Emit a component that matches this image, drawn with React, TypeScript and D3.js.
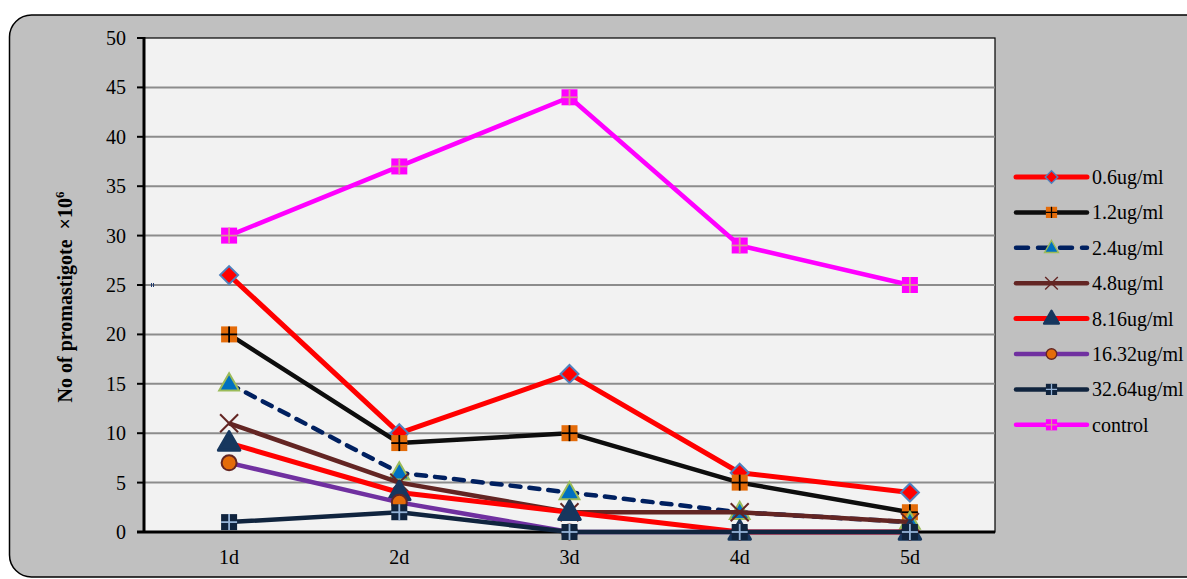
import React from 'react';
import { scalePoint, scaleLinear, line, symbol, symbolTriangle } from 'd3';

const days = ['1d', '2d', '3d', '4d', '5d'];
const yTicks = [0, 5, 10, 15, 20, 25, 30, 35, 40, 45, 50];

const s06 = [26, 10, 16, 6, 4];
const s12 = [20, 9, 10, 5, 2];
const s24 = [15, 6, 4, 2, 1];
const s48 = [11, 5, 2, 2, 1];
const s816 = [9, 4, 2, 0, 0];
const s1632 = [7, 3, 0, 0, 0];
const s3264 = [1, 2, 0, 0, 0];
const control = [30, 37, 44, 29, 25];

const seriesNames = ['0.6ug/ml', '1.2ug/ml', '2.4ug/ml', '4.8ug/ml', '8.16ug/ml', '16.32ug/ml', '32.64ug/ml', 'control'];

type Style = { color: string; dash?: string; marker: string; fill: string; edge: string; width: number };

const styles: Style[] = [
  { color: '#ff0000', marker: 'diamond', fill: '#ff0000', edge: '#4f81bd', width: 5 },
  { color: '#0d0d0d', marker: 'squarePlus', fill: '#e46c0a', edge: '#000000', width: 4.5 },
  { color: '#002060', dash: '10 9', marker: 'triangle', fill: '#0070c0', edge: '#9bbb59', width: 4.5 },
  { color: '#632523', marker: 'x', fill: 'none', edge: '#632523', width: 4.5 },
  { color: '#ff0000', marker: 'triangleBig', fill: '#17375e', edge: '#17375e', width: 5 },
  { color: '#7030a0', marker: 'circle', fill: '#e46c0a', edge: '#632523', width: 4.5 },
  { color: '#10243e', marker: 'squarePlus', fill: '#10243e', edge: '#95b3d7', width: 4.5 },
  { color: '#ff00ff', marker: 'squarePlus', fill: '#ff00ff', edge: '#d99694', width: 4.5 },
];

const data = [s06, s12, s24, s48, s816, s1632, s3264, control];

const width = 1187;
const height = 579;
const plot = { left: 144, right: 995, top: 38, bottom: 532 };
const font = "'Liberation Serif', 'DejaVu Serif', serif";

const Marker = ({ kind, x, y, st }: { kind: string; x: number; y: number; st: Style }) => {
  if (kind === 'diamond') {
    return <path transform={`translate(${x},${y})`} d="M0,-9L9,0L0,9L-9,0Z" fill={st.fill} stroke={st.edge} strokeWidth={2} />;
  }
  if (kind === 'squarePlus') {
    return (
      <g transform={`translate(${x},${y})`}>
        <rect x={-8} y={-8} width={16} height={16} fill={st.fill} />
        <line x1={-8} x2={8} y1={0} y2={0} stroke={st.edge} strokeWidth={1.8} />
        <line x1={0} x2={0} y1={-8} y2={8} stroke={st.edge} strokeWidth={1.8} />
      </g>
    );
  }
  if (kind === 'triangle') {
    return <path transform={`translate(${x},${y + 1})`} d={symbol(symbolTriangle, 170)() || ''} fill={st.fill} stroke={st.edge} strokeWidth={2} />;
  }
  if (kind === 'triangleBig') {
    return <path transform={`translate(${x},${y + 1})`} d={symbol(symbolTriangle, 200)() || ''} fill={st.fill} stroke={st.edge} strokeWidth={3} strokeLinejoin="round" />;
  }
  if (kind === 'x') {
    return (
      <g transform={`translate(${x},${y})`} stroke={st.edge} strokeWidth={2}>
        <line x1={-9} y1={-9} x2={9} y2={9} />
        <line x1={-9} y1={9} x2={9} y2={-9} />
      </g>
    );
  }
  return <circle cx={x} cy={y} r={7.5} fill={st.fill} stroke={st.edge} strokeWidth={2} />;
};

const App = () => {
  const xScale = scalePoint<string>().domain(days).range([plot.left, plot.right]).padding(0.5);
  const yScale = scaleLinear().domain([0, 50]).range([plot.bottom, plot.top]);

  const lineGen = line<number>()
    .x((_, i) => xScale(days[i]) as number)
    .y(d => yScale(d));

  const legendX = 1016;
  const legendY0 = 177;
  const legendStep = 35.4;

  return (
    <svg width={width} height={height} style={{ position: 'absolute', left: 0, top: 0, fontFamily: font }}>
      <rect x={9.5} y={15} width={1200} height={562} rx={22} fill="#c0c0c0" stroke="#000" strokeWidth={1.5} />
      <rect x={plot.left} y={plot.top} width={plot.right - plot.left} height={plot.bottom - plot.top} fill="#f2f2f2" stroke="#000" strokeWidth={1.2} />

      {yTicks.map(t => (
        <g key={t}>
          {t > 0 && t < 50 && (
            <line x1={plot.left} x2={plot.right} y1={yScale(t)} y2={yScale(t)} stroke="#8c8c8c" strokeWidth={2} />
          )}
          <line x1={plot.left - 7} x2={plot.left} y1={yScale(t)} y2={yScale(t)} stroke="#000" strokeWidth={2} />
          <text x={126} y={yScale(t)} dy=".35em" textAnchor="end" fontSize={20} fill="#000">{t}</text>
        </g>
      ))}
      <line x1={plot.left} x2={plot.left} y1={plot.top - 1} y2={plot.bottom + 1} stroke="#000" strokeWidth={3} />
      <line x1={plot.left - 7} x2={plot.right} y1={plot.bottom} y2={plot.bottom} stroke="#000" strokeWidth={3} />

      <g stroke="#1f3a6e" strokeWidth={1}>
        <line x1={151.5} x2={151.5} y1={283} y2={287} />
        <line x1={153.5} x2={153.5} y1={283} y2={287} />
      </g>

      {days.map(d => (
        <text key={d} x={xScale(d)} y={564} textAnchor="middle" fontSize={20} fill="#000">{d}</text>
      ))}

      <text transform="translate(72,297) rotate(-90)" textAnchor="middle" fontSize={20} fontWeight="bold" fill="#000">
        No of promastigote{'\u00a0\u00a0'}×10<tspan dy={-8} fontSize={13}>6</tspan>
      </text>

      {data.map((vals, si) => {
        const st = styles[si];
        return (
          <g key={seriesNames[si]}>
            <path d={lineGen(vals) || ''} fill="none" stroke={st.color} strokeWidth={st.width} strokeDasharray={st.dash} strokeLinecap={st.dash ? 'round' : 'butt'} strokeLinejoin="round" />
            {vals.map((v, i) => (
              <Marker key={i} kind={st.marker} x={xScale(days[i]) as number} y={yScale(v)} st={st} />
            ))}
          </g>
        );
      })}

      {seriesNames.map((name, si) => {
        const st = styles[si];
        const y = legendY0 + si * legendStep;
        return (
          <g key={name}>
            <line x1={legendX} x2={legendX + 71} y1={y} y2={y} stroke={st.color} strokeWidth={st.width} strokeDasharray={st.dash ? '12 10' : undefined} strokeLinecap="round" />
            <g transform={`translate(${legendX + 35.5},${y}) scale(0.7) translate(${-(legendX + 35.5)},${-y})`}>
              <Marker kind={st.marker} x={legendX + 35.5} y={y} st={st} />
            </g>
            <text x={legendX + 76} y={y} dy=".35em" fontSize={20} fill="#000">{name}</text>
          </g>
        );
      })}
    </svg>
  );
};

export default App;
